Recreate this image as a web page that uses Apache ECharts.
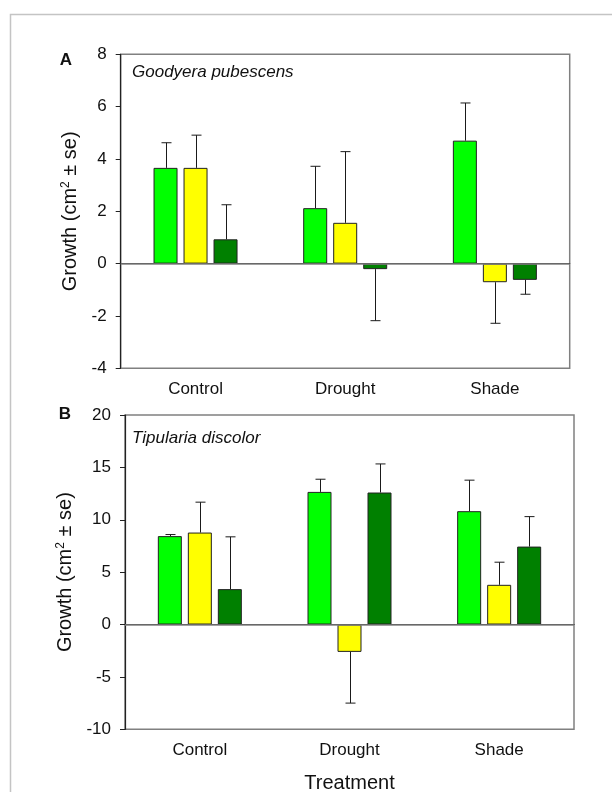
<!DOCTYPE html>
<html>
<head>
<meta charset="utf-8">
<script src="https://cdn.jsdelivr.net/npm/echarts@6/dist/echarts.min.js"></script>
<style>
  html, body { margin: 0; padding: 0; background: #fff; }
  #chart { width: 612px; height: 792px; }
</style>
</head>
<body>
<div id="chart"></div>
<script>
// Treatment groups on the x axis
const categories = ['Control', 'Drought', 'Shade'];

// Goodyera pubescens: mean growth and standard error per treatment
const goodyeraBright = [3.66, 2.12, 4.70];
const goodyeraBrightSe = [0.96, 1.60, 1.44];
const goodyeraYellow = [3.66, 1.56, -0.71];
const goodyeraYellowSe = [1.25, 2.72, 1.57];
const goodyeraDark = [0.93, -0.21, -0.62];
const goodyeraDarkSe = [1.32, 1.97, 0.55];

// Tipularia discolor: mean growth and standard error per treatment
const tipulariaBright = [8.44, 12.66, 10.82];
const tipulariaBrightSe = [0.15, 1.21, 2.96];
const tipulariaYellow = [8.78, -2.61, 3.79];
const tipulariaYellowSe = [2.90, 4.89, 2.16];
const tipulariaDark = [3.38, 12.60, 7.44];
const tipulariaDarkSe = [4.99, 2.73, 2.86];

const FONT = '"Liberation Sans", Arial, sans-serif';
const colors = ['#00ff00', '#ffff00', '#008000'];
const BAR_W = 24;
const BAR_STEP = 30; // bar width plus gap between neighbouring bars

function errorSeries(gridIdx, means, ses, slot) {
  return {
    type: 'custom',
    xAxisIndex: gridIdx,
    yAxisIndex: gridIdx,
    z: 5,
    silent: true,
    data: means.map((m, i) => [i, m, ses[i]]),
    renderItem: function (params, api) {
      const cat = api.value(0), mean = api.value(1), se = api.value(2);
      const end = mean >= 0 ? mean + se : mean - se;
      const p0 = api.coord([cat, mean]);
      const p1 = api.coord([cat, end]);
      const x = Math.round(p0[0] + slot * BAR_STEP) + 0.5;
      const style = { stroke: '#1a1a1a', lineWidth: 1 };
      return {
        type: 'group',
        children: [
          { type: 'line', shape: { x1: x, y1: p0[1], x2: x, y2: p1[1] }, style: style },
          { type: 'line', shape: { x1: x - 5, y1: p1[1], x2: x + 5, y2: p1[1] }, style: style }
        ]
      };
    }
  };
}

function barSeries(gridIdx, values, colorIdx, withZero) {
  const s = {
    type: 'bar',
    xAxisIndex: gridIdx,
    yAxisIndex: gridIdx,
    barWidth: BAR_W,
    barGap: '25%',
    data: values,
    itemStyle: { color: colors[colorIdx], borderColor: '#222', borderWidth: 1 },
    silent: true
  };
  if (withZero) {
    s.markLine = {
      silent: true,
      symbol: 'none',
      label: { show: false },
      lineStyle: { color: '#808080', width: 1.5, type: 'solid' },
      data: [{ yAxis: 0 }]
    };
  }
  return s;
}

function xAxisFor(gridIdx, name) {
  return {
    type: 'category',
    gridIndex: gridIdx,
    data: categories,
    boundaryGap: true,
    axisLine: { lineStyle: { color: '#222', width: 1.2 } },
    axisTick: { alignWithLabel: true, length: 5, lineStyle: { color: '#808080' } },
    axisLabel: { color: '#111', fontFamily: FONT, fontSize: 17, margin: 13 },
    splitLine: { show: false },
    name: name || '',
    nameLocation: 'middle',
    nameGap: 44,
    nameTextStyle: { color: '#111', fontFamily: FONT, fontSize: 20 }
  };
}

function yAxisFor(gridIdx, min, max, interval) {
  return {
    type: 'value',
    gridIndex: gridIdx,
    min: min, max: max, interval: interval,
    axisLine: { show: true, lineStyle: { color: '#222', width: 1.2 } },
    axisTick: { show: true, inside: false, length: 5, lineStyle: { color: '#222' } },
    axisLabel: { color: '#111', fontFamily: FONT, fontSize: 17, margin: 14 },
    splitLine: { show: false },
    name: '{t|Growth (cm}{s|2}{t| ± se)}',
    nameLocation: 'middle',
    nameRotate: 90,
    nameGap: 39,
    nameTextStyle: {
      color: '#111', fontFamily: FONT, fontSize: 20,
      rich: {
        t: { fontFamily: FONT, fontSize: 20, color: '#111', lineHeight: 22 },
        s: { fontFamily: FONT, fontSize: 12, color: '#111', verticalAlign: 'top', lineHeight: 22 }
      }
    }
  };
}

const chart = echarts.init(document.getElementById('chart'), null, { renderer: 'canvas' });

chart.setOption({
  animation: false,
  backgroundColor: '#ffffff',
  grid: [
    { left: 120.7, top: 54.3, width: 449, height: 314, outerBoundsMode: 'none', containLabel: false, show: true, borderColor: '#808080', borderWidth: 1.5, backgroundColor: 'transparent' },
    { left: 125, top: 415, width: 449, height: 314.3, outerBoundsMode: 'none', containLabel: false, show: true, borderColor: '#808080', borderWidth: 1.5, backgroundColor: 'transparent' }
  ],
  xAxis: [xAxisFor(0), xAxisFor(1, 'Treatment')],
  yAxis: [yAxisFor(0, -4, 8, 2), yAxisFor(1, -10, 20, 5)],
  series: [
    barSeries(0, goodyeraBright, 0, true),
    barSeries(0, goodyeraYellow, 1),
    barSeries(0, goodyeraDark, 2),
    errorSeries(0, goodyeraBright, goodyeraBrightSe, -1),
    errorSeries(0, goodyeraYellow, goodyeraYellowSe, 0),
    errorSeries(0, goodyeraDark, goodyeraDarkSe, 1),
    barSeries(1, tipulariaBright, 0, true),
    barSeries(1, tipulariaYellow, 1),
    barSeries(1, tipulariaDark, 2),
    errorSeries(1, tipulariaBright, tipulariaBrightSe, -1),
    errorSeries(1, tipulariaYellow, tipulariaYellowSe, 0),
    errorSeries(1, tipulariaDark, tipulariaDarkSe, 1)
  ],
  graphic: [
    {
      type: 'rect', silent: true, z: -1,
      shape: { x: 10.5, y: 14.5, width: 700, height: 900 },
      style: { fill: 'none', stroke: '#c4c4c4', lineWidth: 1.5 }
    },
    {
      type: 'text', x: 66, y: 60.5,
      style: { text: 'A', fontFamily: FONT, fontSize: 17, fontWeight: 'bold', fill: '#111', textAlign: 'center', textVerticalAlign: 'middle' }
    },
    {
      type: 'text', x: 65, y: 414,
      style: { text: 'B', fontFamily: FONT, fontSize: 17, fontWeight: 'bold', fill: '#111', textAlign: 'center', textVerticalAlign: 'middle' }
    },
    {
      type: 'text', x: 132, y: 72.7,
      style: { text: 'Goodyera pubescens', fontFamily: FONT, fontSize: 17, fontStyle: 'italic', fill: '#111', textAlign: 'left', textVerticalAlign: 'middle' }
    },
    {
      type: 'text', x: 132, y: 438,
      style: { text: 'Tipularia discolor', fontFamily: FONT, fontSize: 17, fontStyle: 'italic', fill: '#111', textAlign: 'left', textVerticalAlign: 'middle' }
    }
  ]
});
</script>
</body>
</html>
